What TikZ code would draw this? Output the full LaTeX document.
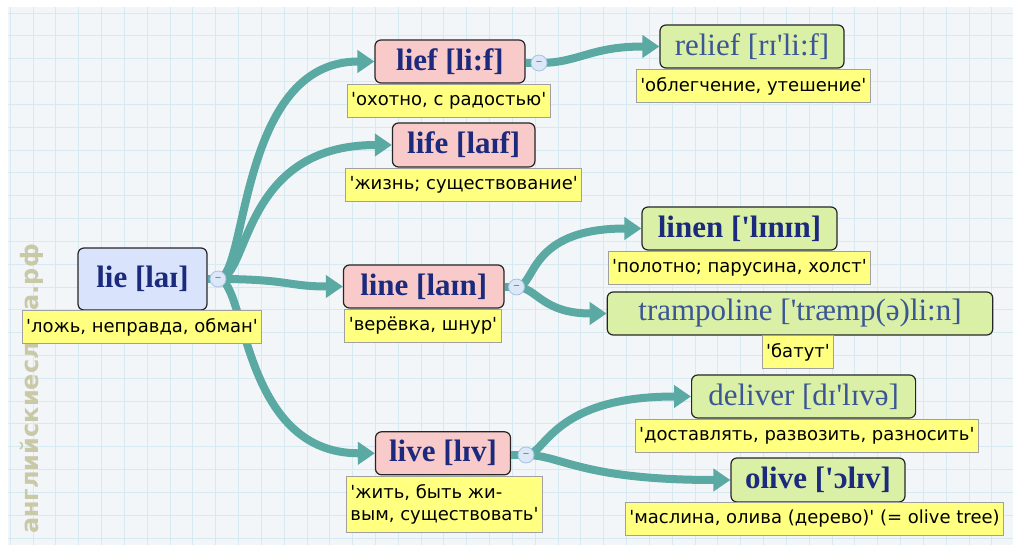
\documentclass[tikz,border=0pt]{standalone}
\usepackage{fontspec}
\setmainfont{Liberation Serif}[Ligatures=TeXOff]
\newfontfamily\capfont{DejaVu Sans}[Ligatures=TeXOff]
\newfontfamily\wmfont{DejaVu Sans}
\usetikzlibrary{arrows.meta}
\definecolor{bgc}{HTML}{F3F6F9}
\definecolor{gridc}{HTML}{D8EAF1}
\definecolor{connc}{HTML}{5AA9A3}
\definecolor{bluefill}{HTML}{D9E4FC}
\definecolor{pinkfill}{HTML}{F9CACA}
\definecolor{greenfill}{HTML}{DAF0A6}
\definecolor{capfill}{HTML}{FFFF80}
\definecolor{capdraw}{HTML}{A0A0A0}
\definecolor{navy}{HTML}{1B2A7C}
\definecolor{slate}{HTML}{3B5595}
\definecolor{btnfill}{HTML}{DCE7F7}
\definecolor{btndraw}{HTML}{A8C2E4}
\definecolor{btntext}{HTML}{6F809E}
\definecolor{wmc}{HTML}{C9C9A8}
\tikzset{
  titlebox/.style={draw=black!85, line width=1.2pt, rounded corners=6pt, inner sep=0pt,
    minimum height=43pt, font=\fontsize{31}{36}\selectfont\bfseries, text=navy},
  regtitle/.style={titlebox, font=\fontsize{31}{36}\selectfont, text=slate},
  pinkbox/.style={fill=pinkfill},
  greenbox/.style={fill=greenfill},
  capbox/.style={draw=capdraw, fill=capfill, line width=0.8pt, inner xsep=4pt, inner ysep=0pt,
    minimum height=33pt, anchor=north, font=\capfont\fontsize{18}{22}\selectfont, text=black},
  btn/.style={circle, draw=btndraw, fill=btnfill, line width=0.8pt, minimum size=16pt, inner sep=0pt,
    font=\capfont\fontsize{13}{13}\selectfont, text=btntext},
  conn/.style={draw=connc, line width=8pt, -{Triangle[length=17pt,width=22pt]}},
  stub/.style={draw=connc, line width=8pt}
}
\begin{document}
\begin{tikzpicture}[x=1pt,y=-1pt]
\useasboundingbox (0,0) rectangle (1013,545);
% background and grid
\fill[bgc] (8,7) rectangle (1013,545);
\begin{scope}
\clip (8,7) rectangle (1013,545);
\foreach \k in {-1,...,42} {
  \draw[gridc, line width=0.9pt] ({33+22.83*\k},7) -- ({33+22.83*\k},545);
}
\foreach \k in {0,...,23} {
  \draw[gridc, line width=0.9pt] (8,{13+22.83*\k}) -- (1013,{13+22.83*\k});
}
\end{scope}
% watermark
\node[rotate=90, text=wmc, font=\wmfont\bfseries\fontsize{24}{24}\selectfont] (wm) at (32,389) {английскиеслова.рф};

% title nodes
\node[titlebox, fill=bluefill, minimum width=129pt, minimum height=62pt] (lie) at (142.5,279) {lie [laɪ]};
\node[titlebox, pinkbox, minimum width=150pt] (lief) at (450,61.5) {lief [li:f]};
\node[regtitle, greenbox, minimum width=184pt] (relief) at (752,46.5) {relief [rɪ'li:f]};
\node[titlebox, pinkbox, minimum width=142.5pt, minimum height=44pt] (life) at (463.7,145) {life [laɪf]};
\node[titlebox, pinkbox, minimum width=160.5pt] (line) at (423.7,286.5) {line [laɪn]};
\node[titlebox, greenbox, minimum width=195pt] (linen) at (739.5,228.5) {linen ['lɪnɪn]};
\node[regtitle, greenbox, minimum width=385.5pt] (tramp) at (800,313.5) {trampoline ['træmp(ə)li:n]};
\node[titlebox, pinkbox, minimum width=135pt] (live) at (443,453.3) {live [lɪv]};
\node[regtitle, greenbox, minimum width=224pt] (deliver) at (803.6,396.5) {deliver [dɪ'lɪvə]};
\node[titlebox, greenbox, minimum width=174pt, minimum height=44pt] (olive) at (818,480) {olive ['ɔlɪv]};

% stubs and buttons
\coordinate (lieh) at (218,279);
\coordinate (liefh) at (539,63);
\coordinate (lineh) at (516.5,287);
\coordinate (liveh) at (526,455);
\draw[stub] (lie.east |- lieh) -- (lieh);
\draw[stub] (lief.east |- liefh) -- (liefh);
\draw[stub] (line.east |- lineh) -- (lineh);
\draw[stub] (live.east |- liveh) -- (liveh);

% connectors
\draw[conn] (lieh) .. controls +(30,0) and +(-137,0) .. (lief.west);
\draw[conn] (lieh) .. controls +(32,0) and +(-152,0) .. (life.west);
\draw[conn] (lieh) .. controls +(70,0) and +(-55,0) .. (line.west);
\draw[conn] (lieh) .. controls +(29,0) and +(-135,0) .. (live.west);
\draw[conn] (liefh) .. controls +(40,0) and +(-70,0) .. (relief.west);
\draw[conn] (lineh) .. controls +(20,0) and +(-115,0) .. (linen.west);
\draw[conn] (lineh) .. controls +(20,0) and +(-65,0) .. (tramp.west);
\draw[conn] (liveh) .. controls +(20,0) and +(-140,0) .. (deliver.west);
\draw[conn] (liveh) .. controls +(35,0) and +(-150,0) .. (olive.west);

\node[btn] (lieb) at (lieh) {–};
\node[btn] (liefb) at (liefh) {–};
\node[btn] (lineb) at (lineh) {–};
\node[btn] (liveb) at (liveh) {–};

% captions
\node[capbox] (liec) at (142,310) {'ложь, неправда, обман'};
\node[capbox] (liefc) at (448.7,84) {'охотно, с радостью'};
\node[capbox] (reliefc) at (753.3,69) {'облегчение, утешение'};
\node[capbox] (lifec) at (463.7,168) {'жизнь; существование'};
\node[capbox] (linec) at (423,309) {'верёвка, шнур'};
\node[capbox] (linenc) at (739.5,251) {'полотно; парусина, холст'};
\node[capbox] (trampc) at (798,335) {'батут'};
\node[capbox] (deliverc) at (806.8,419) {'доставлять, развозить, разносить'};
\node[capbox] (olivec) at (814.5,502) {'маслина, олива (дерево)' (= olive tree)};
\node[capbox, align=left, minimum height=56pt] (livec) at (444.5,476) {'жить, быть жи-\\вым, существовать'};
\end{tikzpicture}
\end{document}
